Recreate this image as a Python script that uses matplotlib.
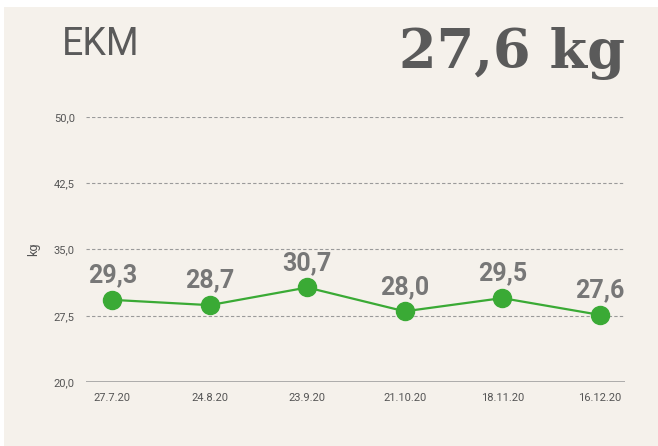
import matplotlib.pyplot as plt
from matplotlib.patches import Rectangle

# Chart data
dates = ["27.7.20", "24.8.20", "23.9.20", "21.10.20", "18.11.20", "16.12.20"]
weights = [29.3, 28.7, 30.7, 28.0, 29.5, 27.6]
y_ticks = [20.0, 27.5, 35.0, 42.5, 50.0]
title = "EKM"
latest = "27,6 kg"

bg = "#f5f1eb"
green = "#3aaa35"
grey = "#5a5a5a"

fig = plt.figure(figsize=(6.58, 4.46), dpi=100)
fig.patch.set_facecolor("white")
# panel background (small white margin top and left)
fig.patches.append(Rectangle((4 / 658, 0), 1, 1 - 7 / 446, transform=fig.transFigure,
                             facecolor=bg, edgecolor="none", zorder=-10))

ax = fig.add_axes([86 / 658, (446 - 382) / 446, (625 - 86) / 658, (382 - 117) / 446])
ax.set_facecolor("none")

x = list(range(len(dates)))
ax.plot(x, weights, color=green, lw=1.6, marker="o", ms=13, zorder=3, clip_on=False)

for xi, w in zip(x, weights):
    ax.annotate(f"{w:.1f}".replace(".", ","), (xi, w), xytext=(0, 9),
                textcoords="offset points", ha="center", va="bottom",
                fontsize=18, fontweight="bold", color="#777777",
                family="Roboto", fontstretch="condensed")

ax.set_xlim(-0.27, 5.26)
ax.set_ylim(20, 50)
ax.set_yticks(y_ticks)
ax.set_yticklabels([f"{t:.1f}".replace(".", ",") for t in y_ticks])
ax.set_xticks(x)
ax.set_xticklabels(dates)
ax.tick_params(length=0, labelsize=8, colors="#555555", pad=8)
for lbl in ax.get_xticklabels() + ax.get_yticklabels():
    lbl.set_family("Roboto")

for t in y_ticks[1:]:
    ax.axhline(t, color="#9a9a9a", lw=0.8, ls=(0, (3, 2)), zorder=1)
ax.axhline(20, color="#a0a0a0", lw=1.2, zorder=1)

for s in ax.spines.values():
    s.set_visible(False)

ax.set_ylabel("kg", fontsize=9, color="#555555", family="Roboto", labelpad=10)

fig.text(62 / 658, 1 - 55 / 446, title, fontsize=27, color=grey, family="Roboto",
         ha="left", va="baseline")
fig.text(625 / 658, 1 - 68 / 446, latest, fontsize=39, fontweight="bold", color=grey,
         family="DejaVu Serif", ha="right", va="baseline")

fig.savefig("out.png", dpi=100, facecolor=fig.get_facecolor())
